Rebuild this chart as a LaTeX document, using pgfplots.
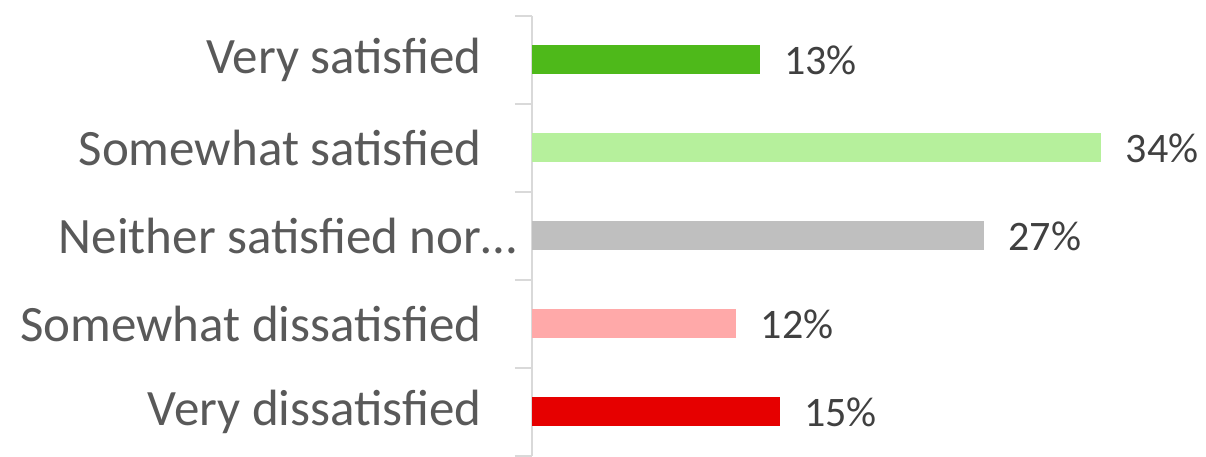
\documentclass[border=0pt]{standalone}
\usepackage{pgfplots}
\pgfplotsset{compat=1.18}
\usepackage{fontspec}
\setmainfont{Carlito}
\definecolor{c1}{HTML}{4EB91A}
\definecolor{c2}{HTML}{B6F09C}
\definecolor{c3}{HTML}{BFBFBF}
\definecolor{c4}{HTML}{FFA9A9}
\definecolor{c5}{HTML}{E60000}
\definecolor{axgray}{HTML}{D9D9D9}
\definecolor{labgray}{HTML}{595959}
\definecolor{numgray}{HTML}{404040}
\begin{document}
\begin{tikzpicture}
\begin{axis}[
  name=ax,
  scale only axis,
  width=335pt, height=220pt,
  xmin=0, xmax=40,
  ymin=-0.5, ymax=4.5,
  y dir=reverse,
  xbar, bar width=14.5pt, bar shift=0pt,
  hide x axis,
  axis y line*=left,
  y axis line style={draw=axgray, line width=0.75pt},
  ytick={0,1,2,3,4},
  yticklabels={Very satisfied, Somewhat satisfied, {Neither satisfied nor…\kern-17.5pt}, Somewhat dissatisfied, Very dissatisfied},
  major tick length=0pt,
  extra y ticks={-0.5,0.5,1.5,2.5,3.5,4.5},
  extra y tick labels={},
  extra y tick style={major tick length=8.5pt, tick align=outside, tick style={draw=axgray, line width=0.75pt}},
  yticklabel style={font=\fontsize{25.5}{30}\selectfont, text=labgray, inner sep=0pt, anchor=east, xshift=-25pt},
  /pgf/number format/assume math mode=true,
  point meta=explicit symbolic,
  nodes near coords={\pgfplotspointmeta\%},
  nodes near coords style={font=\fontsize{21}{25}\selectfont, text=numgray, anchor=west, inner sep=0pt, xshift=12pt},
  clip=false,
]
\addplot[draw=none, fill=c1] coordinates {(13.6,0) [13]};
\addplot[draw=none, fill=c2] coordinates {(34,1) [34]};
\addplot[draw=none, fill=c3] coordinates {(27,2) [27]};
\addplot[draw=none, fill=c4] coordinates {(12.2,3) [12]};
\addplot[draw=none, fill=c5] coordinates {(14.8,4) [15]};
\end{axis}
\path[use as bounding box] ([shift={(-266pt,8pt)}]ax.north west) rectangle ([shift={(337pt,-218.5pt)}]ax.north west);
\end{tikzpicture}
\end{document}
